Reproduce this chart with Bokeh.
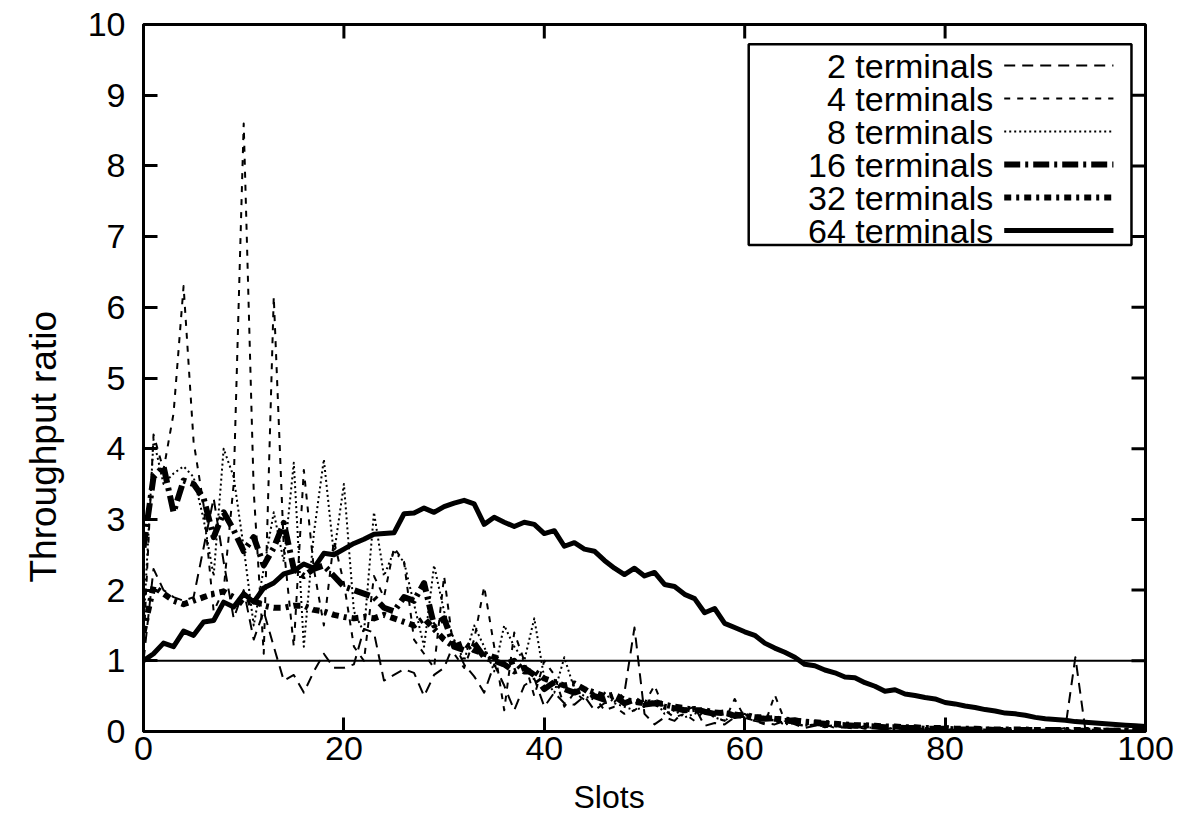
from bokeh.plotting import figure
from bokeh.models import Span, BoxAnnotation, FixedTicker, Range1d, ColumnDataSource, Title
from bokeh.core.properties import value
from bokeh.embed import file_html
from bokeh.resources import INLINE

slots = list(range(0, 101))

t2 = [1.0, 2.3, 2.0, 1.9, 1.85, 1.9, 2.6, 3.3, 2.4, 1.6, 2.0, 1.3, 1.7, 1.2, 0.72, 0.8, 0.55, 0.85, 1.1, 0.9,
      0.9, 0.95, 1.45, 1.4, 0.72, 0.8, 0.88, 0.83, 0.5, 0.8, 0.9, 1.25, 0.95, 0.78, 0.55, 0.95, 0.65, 0.3, 0.65, 0.75,
      0.35, 0.55, 0.4, 0.38, 0.5, 0.3, 0.4, 0.42, 0.55, 1.47, 0.25, 0.1, 0.2, 0.15, 0.3, 0.35, 0.08, 0.12, 0.1, 0.2,
      0.25, 0.15, 0.12, 0.1, 0.15, 0.1, 0.05, 0.08, 0.1, 0.05, 0.06, 0.04, 0.08, 0.05, 0.03, 0.06, 0.04, 0.05, 0.03, 0.04,
      0.02, 0.03, 0.05, 0.02, 0.03, 0.02, 0.04, 0.02, 0.03, 0.02, 0.03, 0.02, 0.05, 1.05, 0.02, 0.03, 0.01, 0.02, 0.01, 0.02,
      0.01]

t4 = [1.2, 4.2, 3.7, 4.5, 6.3, 4.1, 3.2, 1.7, 2.0, 3.5, 8.6, 3.4, 1.1, 6.15, 2.6, 1.2, 3.7, 2.3, 1.5, 2.7,
      2.1, 1.2, 1.0, 2.2, 1.9, 2.6, 2.4, 1.3, 1.1, 0.9, 2.2, 1.1, 0.9, 1.3, 2.05, 1.2, 0.3, 1.4, 1.0, 0.5,
      1.0, 0.8, 0.35, 0.55, 0.45, 0.5, 0.3, 0.35, 0.25, 0.3, 0.4, 0.65, 0.3, 0.2, 0.25, 0.15, 0.3, 0.2, 0.15, 0.46,
      0.2, 0.15, 0.1, 0.52, 0.15, 0.1, 0.08, 0.1, 0.06, 0.08, 0.05, 0.07, 0.04, 0.06, 0.03, 0.05, 0.04, 0.03, 0.05, 0.02,
      0.03, 0.02, 0.04, 0.02, 0.03, 0.02, 0.02, 0.03, 0.01, 0.02, 0.02, 0.01, 0.02, 0.01, 0.02, 0.01, 0.01, 0.02, 0.01, 0.01,
      0.01]

t8 = [1.5, 4.13, 3.5, 3.65, 3.75, 3.6, 3.0, 2.2, 4.0, 3.6, 2.6, 1.5, 2.3, 3.1, 2.4, 3.8, 1.2, 2.8, 3.85, 2.5,
      3.5, 1.7, 1.4, 3.1, 2.2, 2.55, 2.4, 1.8, 1.2, 2.35, 1.7, 1.3, 1.0, 1.5, 1.2, 0.85, 1.5, 1.2, 1.0, 1.6,
      0.75, 0.55, 1.05, 0.6, 0.5, 0.45, 0.55, 0.4, 0.35, 0.3, 0.35, 0.45, 0.25, 0.3, 0.2, 0.25, 0.3, 0.2, 0.15, 0.25,
      0.2, 0.15, 0.2, 0.15, 0.1, 0.12, 0.08, 0.1, 0.07, 0.09, 0.06, 0.08, 0.05, 0.06, 0.04, 0.05, 0.04, 0.05, 0.03, 0.04,
      0.03, 0.03, 0.02, 0.03, 0.02, 0.03, 0.02, 0.02, 0.01, 0.02, 0.02, 0.01, 0.02, 0.01, 0.01, 0.02, 0.01, 0.01, 0.01, 0.01,
      0.01]

t16 = [2.6, 3.6, 3.75, 3.1, 3.55, 3.5, 3.3, 2.75, 3.1, 2.85, 2.55, 2.75, 2.35, 2.6, 2.95, 2.3, 2.2, 2.3, 2.35, 2.2,
       2.05, 2.0, 1.95, 1.9, 1.75, 1.7, 1.9, 1.85, 2.1, 1.5, 1.6, 1.2, 1.15, 1.25, 1.05, 1.0, 0.95, 0.85, 0.9, 0.8,
       0.6, 0.7, 0.6, 0.55, 0.6, 0.5, 0.45, 0.5, 0.4, 0.45, 0.38, 0.4, 0.35, 0.33, 0.3, 0.32, 0.28, 0.25, 0.27, 0.22,
       0.24, 0.2, 0.18, 0.19, 0.15, 0.16, 0.13, 0.12, 0.11, 0.1, 0.09, 0.08, 0.08, 0.07, 0.06, 0.06, 0.05, 0.05, 0.04, 0.04,
       0.04, 0.03, 0.03, 0.03, 0.03, 0.02, 0.02, 0.02, 0.02, 0.02, 0.02, 0.02, 0.01, 0.01, 0.01, 0.01, 0.01, 0.01, 0.01, 0.01,
       0.01]

t32 = [1.4, 2.05, 1.95, 1.85, 1.8, 1.85, 1.9, 1.95, 1.98, 1.9, 1.8, 1.85, 1.78, 1.75, 1.75, 1.78, 1.78, 1.72, 1.7, 1.65,
       1.62, 1.6, 1.62, 1.6, 1.65, 1.6, 1.55, 1.5, 1.6, 1.45, 1.3, 1.2, 1.25, 1.15, 1.1, 1.05, 0.95, 1.0, 0.85, 0.85,
       0.75, 0.7, 0.65, 0.68, 0.6, 0.55, 0.5, 0.52, 0.45, 0.42, 0.4, 0.42, 0.38, 0.35, 0.33, 0.3, 0.3, 0.27, 0.26, 0.24,
       0.22, 0.2, 0.2, 0.18, 0.17, 0.15, 0.14, 0.13, 0.12, 0.11, 0.1, 0.09, 0.09, 0.08, 0.07, 0.07, 0.06, 0.06, 0.05, 0.05,
       0.05, 0.04, 0.04, 0.04, 0.03, 0.03, 0.03, 0.03, 0.03, 0.02, 0.02, 0.02, 0.02, 0.02, 0.02, 0.02, 0.01, 0.01, 0.01, 0.01,
       0.01]

t64 = [1.0, 1.1, 1.25, 1.2, 1.42, 1.36, 1.55, 1.57, 1.83, 1.76, 1.95, 1.83, 2.03, 2.1, 2.23, 2.27, 2.37, 2.31, 2.52, 2.5,
       2.58, 2.66, 2.72, 2.79, 2.8, 2.81, 3.08, 3.09, 3.16, 3.1, 3.18, 3.23, 3.27, 3.22, 2.93, 3.03, 2.96, 2.9, 2.96, 2.93,
       2.8, 2.84, 2.62, 2.67, 2.58, 2.55, 2.42, 2.31, 2.22, 2.31, 2.2, 2.25, 2.08, 2.05, 1.94, 1.88, 1.68, 1.74, 1.53, 1.47,
       1.41, 1.36, 1.25, 1.18, 1.12, 1.05, 0.95, 0.93, 0.87, 0.83, 0.77, 0.76, 0.69, 0.64, 0.57, 0.59, 0.53, 0.51, 0.48, 0.46,
       0.41, 0.39, 0.36, 0.34, 0.31, 0.29, 0.26, 0.25, 0.23, 0.2, 0.18, 0.17, 0.16, 0.14, 0.13, 0.12, 0.11, 0.1, 0.09, 0.08,
       0.07]

series_labels = ["2 terminals", "4 terminals", "8 terminals", "16 terminals", "32 terminals", "64 terminals"]
series_values = [t2, t4, t8, t16, t32, t64]
styles = [
    dict(line_width=2, line_dash="11 7"),
    dict(line_width=2, line_dash="6 7"),
    dict(line_width=2, line_dash="2 3"),
    dict(line_width=6, line_dash="16 5 3 5"),
    dict(line_width=6, line_dash="7 5 3 5"),
    dict(line_width=5, line_dash="solid"),
]

x_ticks = [0, 20, 40, 60, 80, 100]
y_ticks = [0, 1, 2, 3, 4, 5, 6, 7, 8, 9, 10]
x_title = "Slots"
y_title = "Throughput ratio"

FONT = "Liberation Sans"
W, H = 1183, 830
BL, BR, BT, BB = 143, 38, 24, 99
X0, X1, Y0, Y1 = 0, 100, 0, 10
px_x = (W - BL - BR) / (X1 - X0)   # pixels per x unit
px_y = (H - BT - BB) / (Y1 - Y0)   # pixels per y unit
TICK = 14

p = figure(width=W, height=H, output_backend="svg", toolbar_location=None,
           x_range=Range1d(X0, X1), y_range=Range1d(Y0, Y1),
           min_border_left=BL, min_border_right=BR, min_border_top=BT, min_border_bottom=BB)
p.grid.visible = False
p.outline_line_color = "black"
p.outline_line_width = 3
p.background_fill_color = "white"
p.border_fill_color = "white"

p.xaxis.ticker = FixedTicker(ticks=x_ticks)
p.yaxis.ticker = FixedTicker(ticks=y_ticks)
for ax in (p.xaxis[0], p.yaxis[0]):
    ax.axis_line_width = 3
    ax.major_tick_in = TICK
    ax.major_tick_out = 0
    ax.major_tick_line_width = 3
    ax.minor_tick_line_color = None
    ax.major_label_text_font = FONT
    ax.major_label_text_font_size = "34px"
    ax.major_label_text_color = "black"
p.xaxis.major_label_standoff = 5
p.yaxis.major_label_standoff = 18

# mirrored inward ticks on top and right border
p.segment(x0=x_ticks, y0=[Y1] * len(x_ticks), x1=x_ticks, y1=[Y1 - TICK / px_y] * len(x_ticks),
          line_color="black", line_width=3)
p.segment(x0=[X1] * len(y_ticks), y0=y_ticks, x1=[X1 - TICK / px_x] * len(y_ticks), y1=y_ticks,
          line_color="black", line_width=3)

# axis titles (side titles, offset as in the original)
xt = Title(text=x_title, align="left", offset=430, standoff=28,
           text_font=FONT, text_font_size="32px", text_font_style="normal", text_color="black")
p.add_layout(xt, "below")
yt = Title(text=y_title, align="left", offset=149, standoff=41,
           text_font=FONT, text_font_size="37px", text_font_style="normal", text_color="black")
p.add_layout(yt, "left")

p.add_layout(Span(location=1, dimension="width", line_color="black", line_width=2))

for vals, st in zip(series_values, styles):
    src = ColumnDataSource(dict(x=slots, y=vals))
    p.line("x", "y", source=src, line_color="black", line_join="round", **st)

# legend (gnuplot style: label right-aligned, sample on the right)
leg_left, leg_right, leg_top, leg_bottom = 60.4, 98.6, 9.72, 6.88
row_y = [9.42 - 0.467 * i for i in range(len(series_labels))]
text_x = 84.8
sample_x0, sample_x1 = 85.9, 96.8
p.add_layout(BoxAnnotation(left=leg_left, right=leg_right, top=leg_top, bottom=leg_bottom,
                           fill_alpha=0, line_color="black", line_alpha=1, line_width=2.5))
p.text(x=[text_x] * len(series_labels), y=row_y, text=series_labels,
       text_font=value(FONT), text_font_size="34px", text_align="right",
       text_baseline="middle", text_color="black")
for yy, st in zip(row_y, styles):
    p.segment(x0=[sample_x0], y0=[yy], x1=[sample_x1], y1=[yy], line_color="black", **st)

open("out.html", "w").write(file_html(p, INLINE))
